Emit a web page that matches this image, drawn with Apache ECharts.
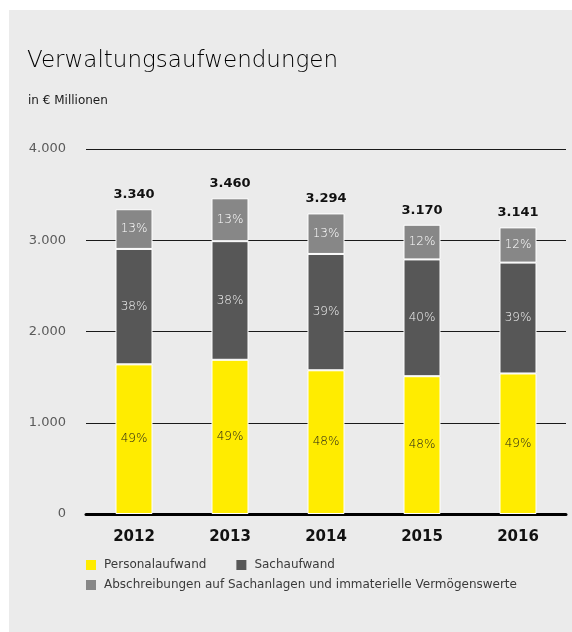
<!DOCTYPE html>
<html>
<head>
<meta charset="utf-8">
<script src="https://cdn.jsdelivr.net/npm/echarts@6/dist/echarts.min.js"></script>
<style>
  html, body { margin: 0; padding: 0; background: #fff; }
  #bg { position: absolute; left: 9px; top: 10px; width: 563px; height: 622px; background: #ebebeb; }
  #chart { position: absolute; left: 0; top: 0; width: 572px; height: 632px; }
</style>
</head>
<body>
<div id="bg"></div>
<div id="chart"></div>
<script>
const years = ["2012", "2013", "2014", "2015", "2016"];
const personal = [1640, 1690, 1575, 1510, 1540];
const sach = [1265, 1300, 1275, 1280, 1215];
const abschr = [435, 470, 444, 380, 386];
const totals = [3340, 3460, 3294, 3170, 3141];
const personalPct = [49, 49, 48, 48, 49];
const sachPct = [38, 38, 39, 40, 39];
const abschrPct = [13, 13, 13, 12, 12];

const font = "DejaVu Sans";
const light = 200;
const fmt = (v) => String(v).replace(/\B(?=(\d{3})+(?!\d))/g, ".");

const segLabel = (pcts, color) => ({
  show: true,
  position: "inside",
  color: color,
  fontFamily: font,
  fontWeight: light,
  fontSize: 12,
  formatter: (p) => pcts[p.dataIndex] + "%"
});

const chart = echarts.init(document.getElementById("chart"));
chart.setOption({
  animation: false,
  textStyle: { fontFamily: font },
  title: [
    {
      text: "Verwaltungsaufwendungen",
      left: 27, top: 50, padding: 0,
      textStyle: { fontFamily: font, fontSize: 23, fontWeight: light, color: "#000" }
    },
    {
      text: "in € Millionen",
      left: 28, top: 95, padding: 0,
      textStyle: { fontFamily: font, fontSize: 12, fontWeight: "normal", color: "#1a1a1a" }
    }
  ],
  legend: [
    {
      data: ["Personalaufwand", "Sachaufwand"],
      left: 86, top: 559, padding: 0,
      icon: "rect", itemWidth: 10, itemHeight: 10, itemGap: 30,
      itemStyle: { borderWidth: 0 },
      textStyle: { fontFamily: font, fontSize: 12, color: "#3a3a3a", padding: [0, 0, 0, 3] }
    },
    {
      data: ["Abschreibungen auf Sachanlagen und immaterielle Vermögenswerte"],
      left: 86, top: 579, padding: 0,
      icon: "rect", itemWidth: 10, itemHeight: 10,
      itemStyle: { borderWidth: 0 },
      textStyle: { fontFamily: font, fontSize: 12, color: "#3a3a3a", padding: [0, 0, 0, 3] }
    }
  ],
  grid: { left: 86, right: 6, top: 149, bottom: 118, containLabel: false },
  xAxis: {
    type: "category",
    data: years,
    axisLine: { lineStyle: { color: "#000", width: 3 } },
    axisTick: { show: false },
    axisLabel: { margin: 16, color: "#111", fontFamily: font, fontSize: 15, fontWeight: "bold" }
  },
  yAxis: {
    type: "value",
    min: 0, max: 4000, interval: 1000,
    axisLine: { show: false },
    axisTick: { show: false },
    splitLine: { lineStyle: { color: "#1a1a1a", width: 1 } },
    axisLabel: { margin: 20, color: "#5a5a5a", fontFamily: font, fontSize: 13, formatter: fmt }
  },
  series: [
    {
      name: "Personalaufwand", type: "bar", stack: "a", barWidth: 37, barGap: "-100%",
      data: personal,
      itemStyle: { color: "#ffec00", borderColor: "#fff", borderWidth: 1 },
      label: segLabel(personalPct, "#1a1a1a")
    },
    {
      name: "Sachaufwand", type: "bar", stack: "a", barWidth: 37,
      data: sach,
      itemStyle: { color: "#575757", borderColor: "#fff", borderWidth: 1 },
      label: segLabel(sachPct, "#f2f2f2")
    },
    {
      name: "Abschreibungen auf Sachanlagen und immaterielle Vermögenswerte", type: "bar", stack: "a", barWidth: 37,
      data: abschr,
      itemStyle: { color: "#878787", borderColor: "#fff", borderWidth: 1 },
      label: segLabel(abschrPct, "#ffffff")
    },
    {
      name: "Summe", type: "bar", barWidth: 37, barGap: "-100%",
      data: totals,
      silent: true,
      itemStyle: { color: "rgba(0,0,0,0)" },
      label: {
        show: true, position: "top", distance: 8,
        color: "#111", fontFamily: font, fontSize: 13, fontWeight: "bold",
        formatter: (p) => fmt(p.value)
      },
      z: 1
    }
  ]
});
</script>
</body>
</html>
